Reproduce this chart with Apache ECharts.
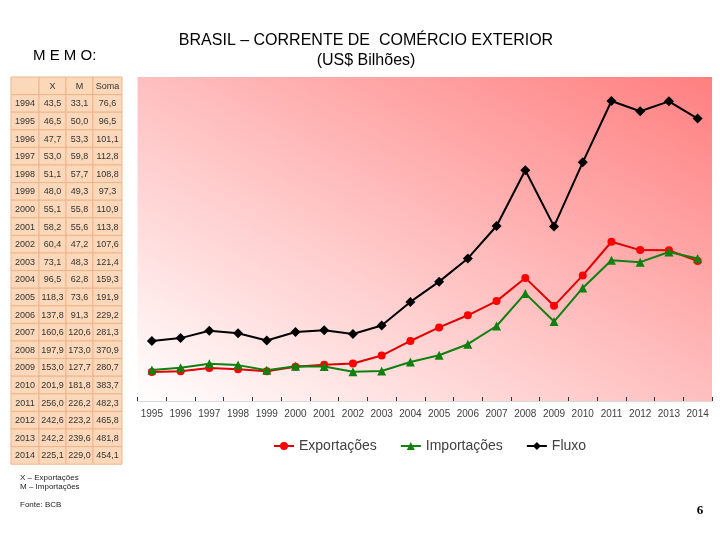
<!DOCTYPE html>
<html>
<head>
<meta charset="utf-8">
<script src="https://cdn.jsdelivr.net/npm/echarts@6/dist/echarts.min.js"></script>
<style>html,body{margin:0;padding:0;background:#fff;}#c{width:720px;height:540px;}</style>
</head>
<body>
<div id="c"></div>
<script>
// ---- data ----
var tableYears = ['1994','1995','1996','1997','1998','1999','2000','2001','2002','2003','2004','2005','2006','2007','2008','2009','2010','2011','2012','2013','2014'];
var exportacoes = [43.5,46.5,47.7,53.0,51.1,48.0,55.1,58.2,60.4,73.1,96.5,118.3,137.8,160.6,197.9,153.0,201.9,256.0,242.6,242.2,225.1];
var importacoes = [33.1,50.0,53.3,59.8,57.7,49.3,55.8,55.6,47.2,48.3,62.8,73.6,91.3,120.6,173.0,127.7,181.8,226.2,223.2,239.6,229.0];
var fluxo = [76.6,96.5,101.1,112.8,108.8,97.3,110.9,113.8,107.6,121.4,159.3,191.9,229.2,281.3,370.9,280.7,383.7,482.3,465.8,481.8,454.1];
var tableHeader = ['', 'X', 'M', 'Soma'];
var chartYears = tableYears.slice(1);
var seriesNames = ['Exportações', 'Importações', 'Fluxo'];
var titleLines = ['BRASIL – CORRENTE DE  COMÉRCIO EXTERIOR', '(US$ Bilhões)'];
var notes = ['X – Exportações', 'M – Importações', '', 'Fonte: BCB'];

var chart = echarts.init(document.getElementById('c'));

// plot background gradient (normalized diagonal)
var bx0 = 137.5, by0 = 77, bx1 = 712, by1 = 402;
var bw = bx1 - bx0, bh = by1 - by0;
var dl = Math.sqrt(bw*bw + bh*bh);
var dx = bh / dl, dy = -bw / dl;
var proj = bw*dx + (-bh)*dy;
var gx2 = bx0 + dx*proj, gy2 = by1 + dy*proj;

var graphics = [];
graphics.push({
  type: 'rect', z: -10, silent: true,
  shape: {x: bx0, y: by0, width: bw, height: bh},
  style: {fill: new echarts.graphic.LinearGradient(bx0, by1, gx2, gy2, [
    {offset: 0, color: '#ffffff'}, {offset: 1, color: '#ff7f80'}], true)}
});
// titles
graphics.push({type:'text', x: 366, y: 41, style:{text: titleLines[0], font: '16px "Liberation Sans", Arial, sans-serif', fill:'#000', align:'center', verticalAlign:'middle'}});
graphics.push({type:'text', x: 366, y: 61, style:{text: titleLines[1], font: '16px "Liberation Sans", Arial, sans-serif', fill:'#000', align:'center', verticalAlign:'middle'}});
graphics.push({type:'text', x: 33, y: 56, style:{text: 'M E M O:', font: '15px "Liberation Sans", Arial, sans-serif', fill:'#000', align:'left', verticalAlign:'middle'}});

// table
var colX = [11, 39, 66, 93, 122];
var rowTop = 77, rowH = 17.6;
var rows = [tableHeader];
for (var i = 0; i < tableYears.length; i++) {
  rows.push([tableYears[i], exportacoes[i].toFixed(1).replace('.', ','), importacoes[i].toFixed(1).replace('.', ','), fluxo[i].toFixed(1).replace('.', ',')]);
}
for (var r = 0; r < rows.length; r++) {
  for (var c = 0; c < 4; c++) {
    var x0 = colX[c], y0 = rowTop + r*rowH;
    graphics.push({type:'rect', shape:{x:x0, y:y0, width: colX[c+1]-x0, height: rowH}, style:{fill:'#fcd8ba', stroke:'#eeb48c', lineWidth:1}});
    if (rows[r][c] !== '') {
      graphics.push({type:'text', x: (x0 + colX[c+1])/2, y: y0 + rowH/2 + 0.5, style:{text: rows[r][c], font: '9px "Liberation Sans", Arial, sans-serif', fill:'#333', align:'center', verticalAlign:'middle'}});
    }
  }
}
// notes
for (var n = 0; n < notes.length; n++) {
  if (notes[n]) graphics.push({type:'text', x: 20, y: 478 + n*9, style:{text: notes[n], font: '8px "Liberation Sans", Arial, sans-serif', fill:'#222', align:'left', verticalAlign:'middle'}});
}
graphics.push({type:'text', x: 700, y: 511, style:{text: '6', font: 'bold 13px "Liberation Serif", serif', fill:'#000', align:'center', verticalAlign:'middle'}});

chart.setOption({
  animation: false,
  backgroundColor: '#ffffff',
  graphic: graphics,
  grid: {left: 137.5, right: 8, top: 90, bottom: 139, containLabel: false},
  legend: {
    left: 268, top: 434,
    itemWidth: 20, itemHeight: 10, itemGap: 23,
    textStyle: {fontSize: 14, color: '#404040', fontFamily: '"Liberation Sans", Arial, sans-serif'},
    data: seriesNames
  },
  xAxis: {
    type: 'category', data: chartYears, boundaryGap: true,
    axisLine: {lineStyle: {color: '#d9d9d9', width: 1}},
    axisTick: {show: true, inside: true, length: 4, lineStyle: {color: '#333'}},
    axisLabel: {fontSize: 10, color: '#404040', margin: 8, interval: 0, fontFamily: '"Liberation Sans", Arial, sans-serif'}
  },
  yAxis: {type: 'value', min: 0, max: 500, show: false, splitLine: {show: false}},
  series: [
    {name: seriesNames[0], type: 'line', data: exportacoes.slice(1), symbol: 'circle', symbolSize: 8,
     itemStyle: {color: '#ff0000'}, lineStyle: {color: '#e00000', width: 2}, z: 3},
    {name: seriesNames[1], type: 'line', data: importacoes.slice(1), symbol: 'triangle', symbolSize: 9,
     itemStyle: {color: '#108010'}, lineStyle: {color: '#108010', width: 2}, z: 4},
    {name: seriesNames[2], type: 'line', data: fluxo.slice(1), symbol: 'diamond', symbolSize: 10,
     itemStyle: {color: '#000'}, lineStyle: {color: '#000', width: 2}, z: 5}
  ]
});
</script>
</body>
</html>
